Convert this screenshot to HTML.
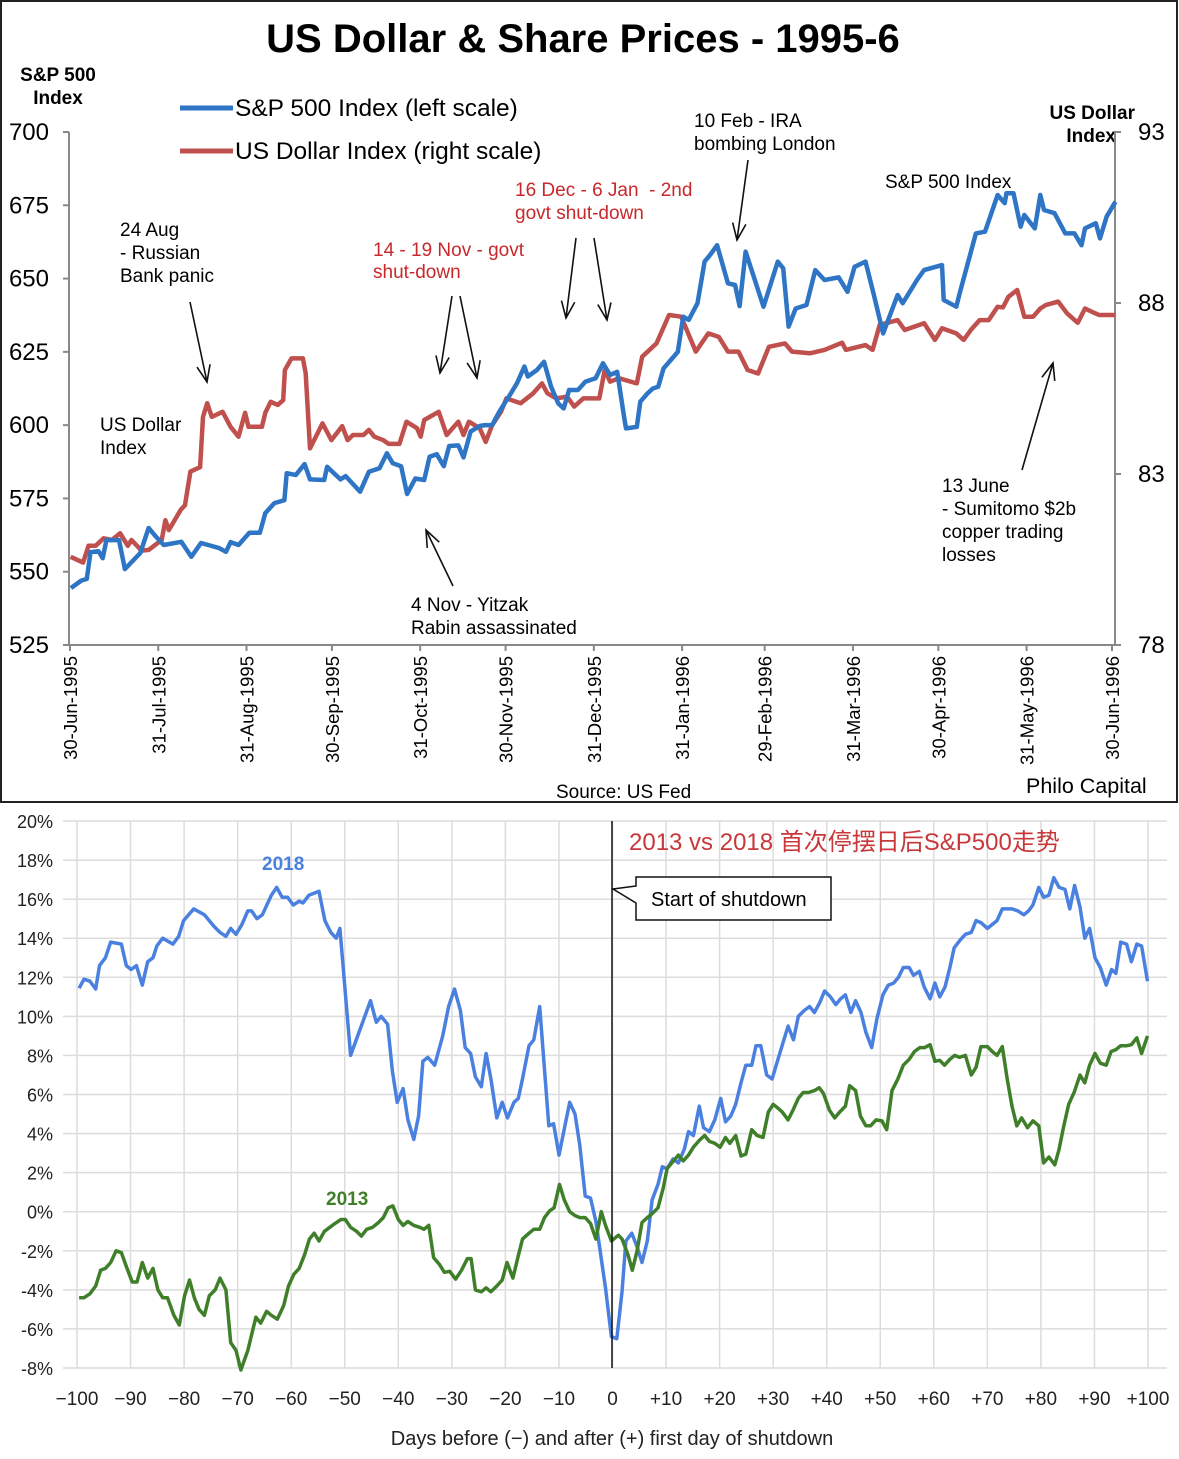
<!DOCTYPE html>
<html><head><meta charset="utf-8"><style>
body{margin:0;background:#fff;width:1179px;height:1459px;overflow:hidden}
svg{display:block}
text{font-family:"Liberation Sans","Noto Sans CJK SC",sans-serif}
</style></head><body>
<svg id="s" width="1179" height="1459" viewBox="0 0 1179 1459">
<rect x="1" y="1" width="1176" height="801" fill="#fff" stroke="#222" stroke-width="2"/>
<text x="583" y="52" font-size="40" font-weight="bold" text-anchor="middle">US Dollar &amp; Share Prices - 1995-6</text>
<text x="58" y="81" font-size="19" font-weight="bold" text-anchor="middle"><tspan x="58">S&amp;P 500</tspan><tspan x="58" dy="23">Index</tspan></text>
<text x="1135" y="119" font-size="19" font-weight="bold" text-anchor="end"><tspan x="1135">US Dollar</tspan><tspan x="1116" dy="23">Index</tspan></text>
<g>
<line x1="180" y1="108" x2="233" y2="108" stroke="#2e75c6" stroke-width="5"/>
<text x="235" y="116" font-size="24.5">S&amp;P 500 Index (left scale)</text>
<line x1="180" y1="151" x2="233" y2="151" stroke="#c0504d" stroke-width="5"/>
<text x="235" y="159" font-size="24.5">US Dollar Index (right scale)</text>
</g>
<g id="topAxes"></g>
<g id="topSeries"></g>
<g font-size="19">
<text x="120" y="236"><tspan x="120">24 Aug</tspan><tspan x="120" dy="23">- Russian</tspan><tspan x="120" dy="23">Bank panic</tspan></text>
<text x="100" y="431"><tspan x="100">US Dollar</tspan><tspan x="100" dy="23">Index</tspan></text>
<text x="373" y="256" fill="#c8282b"><tspan x="373">14 - 19 Nov - govt</tspan><tspan x="373" dy="22">shut-down</tspan></text>
<text x="515" y="196" fill="#c8282b"><tspan x="515">16 Dec - 6 Jan &#160;- 2nd</tspan><tspan x="515" dy="23">govt shut-down</tspan></text>
<text x="694" y="127"><tspan x="694">10 Feb - IRA</tspan><tspan x="694" dy="23">bombing London</tspan></text>
<text x="885" y="188">S&amp;P 500 Index</text>
<text x="942" y="492"><tspan x="942">13 June</tspan><tspan x="942" dy="23">- Sumitomo $2b</tspan><tspan x="942" dy="23">copper trading</tspan><tspan x="942" dy="23">losses</tspan></text>
<text x="411" y="611"><tspan x="411">4 Nov - Yitzak</tspan><tspan x="411" dy="23">Rabin assassinated</tspan></text>
<text x="556" y="798">Source: US Fed</text>
<text x="1026" y="793" font-size="21.5">Philo Capital</text>
</g>
<g id="arrows" stroke="#111" stroke-width="1.6" fill="none"></g>

<g id="botGrid"></g>
<g id="botSeries"></g>
<line x1="612" y1="821" x2="612" y2="1368" stroke="#111" stroke-width="1.5"/>
<text x="629" y="850" font-size="24" fill="#c8383a">2013 vs 2018 首次停摆日后S&amp;P500走势</text>
<path d="M636,877 H831 V920 H636 V903 L613,889 L636,886 Z" fill="#fff" stroke="#111" stroke-width="1.5"/>
<text x="651" y="906" font-size="20">Start of shutdown</text>
<text x="262" y="870" font-size="19" font-weight="bold" fill="#4a80e0">2018</text>
<text x="326" y="1205" font-size="19" font-weight="bold" fill="#3f7f2a">2013</text>
<text x="612" y="1445" font-size="20" text-anchor="middle" fill="#222">Days before (−) and after (+) first day of shutdown</text>
</svg>
<script>
// ---------- Top chart data ----------
const spDays=[0.3,4,5.9,7.2,10,11.5,12.8,17.2,19.3,24.7,27.6,29.7,32.9,39.1,42.6,46,52.3,54.8,56.4,59.2,63,66.7,68.6,71.8,75.3,76.1,79.3,82.4,84.3,89.3,90.3,95,96.8,101.9,105,108.7,111.3,113.4,116.3,118.4,121.3,124.4,126.3,128.8,131.3,133.2,136.4,138.2,140.7,143.9,145.8,148.3,150.8,154.5,157,159.6,160.8,164,166.5,169,171.5,173.4,175.3,178.4,181,184.6,187.2,189.7,192.2,194.7,195.3,199.1,200.3,202.8,204.7,206.6,208.5,211,213.5,215.4,217.3,220.4,222.9,224.8,227.3,231.1,233.6,235.2,237.3,243.6,248.6,250.5,252.4,254.9,258.7,261.8,265,270,273.1,275.6,279.4,282.5,285.6,290.7,292.5,297.5,300,306.3,306.9,311.3,312.5,318.2,321.4,325.8,328.3,328.9,331.4,333.9,335.2,338.9,340.8,342.1,345.8,349.6,352.8,355.3,356.5,360.3,361.8,364.1,367.2];
const spVals=[544.4,547,547.5,556.7,557,554.6,560.8,560.8,550.9,556.4,564.9,562.5,559.1,560.2,555.1,559.8,558.1,556.8,560.1,559.1,563.3,563.3,570,573.4,574.4,583.6,583,586.7,581.5,581.3,585.8,581.5,582.6,577.3,584.1,585.3,590.4,587,586,576.5,581.8,581.3,589.2,590.1,586,592.9,593.1,589,597.8,599.7,600,600,604.6,610.3,614.3,620,616.6,618.8,621.6,613.1,607.4,605.7,612,612,614.8,616,621.1,617.1,618.2,602.3,598.9,599.4,608,610.8,612.5,613.1,619.4,622.2,625,637,635.9,641.6,655.8,658,661.4,648.4,647.8,640.6,659.2,640.4,655.8,653.5,633.6,639.8,641,652.9,649.5,650.4,645.5,654,655.8,643.8,631.3,644.4,641.6,649.5,652.9,654.6,642.7,640.4,645,665.4,666,678.5,675.7,679.1,679.1,667.7,671.7,667.1,678.5,673.4,672.3,665.4,665.4,661.4,667.1,668.9,663.7,671.1,676.2];
const usdDays=[0.2,4.6,6.5,9,11.8,14.7,17.6,20.3,21.6,25.1,27.6,32.2,33.5,34.7,38.9,40.4,42.3,45.7,46.7,48.2,49.8,53.6,56.4,59.2,61.5,62.7,67.4,68.6,70.5,73,74.9,75.5,77.8,81.8,82.8,84.3,88.7,91.8,95.6,97.5,99.4,103.1,105,106.9,110,111.9,115.7,118.2,121.9,123.2,124.4,129.5,132.3,136.4,138.2,140.1,143.9,146,148.3,151.4,153.3,158.3,162.7,165.8,167.7,170.8,174.6,177.1,180.3,185.9,187.8,189.7,192.8,199.1,201,206,210.4,214.7,219.8,224.2,227.9,231.1,234.8,238,241.7,245.5,251.1,253.6,259.9,265,271.2,272.5,279.4,281.9,284.4,290.7,293.2,300,303.8,306.3,311.3,313.9,316.4,319.5,322.7,325.8,327.7,329.6,332.7,335.2,338.3,340.8,342.7,347.1,350.2,354,356.5,359,361.5,367.2];
const usdVals=[80.58,80.41,80.9,80.9,81.12,81.07,81.27,80.9,81.07,80.76,80.78,81.07,81.65,81.36,81.95,82.09,83.07,83.2,84.67,85.07,84.67,84.82,84.38,84.09,84.79,84.38,84.38,84.79,85.11,85.02,85.16,86.04,86.38,86.38,85.94,83.75,84.48,83.99,84.4,83.99,84.14,84.14,84.29,84.09,83.99,83.88,83.88,84.53,84.34,84.09,84.58,84.82,84.14,84.53,84.14,84.53,84.34,83.94,84.43,84.82,85.21,85.07,85.36,85.65,85.36,85.21,85.26,84.97,85.21,85.21,86.04,85.7,85.8,85.65,86.43,86.82,87.65,87.6,86.58,87.11,87.01,86.58,86.58,86.04,85.94,86.72,86.82,86.58,86.53,86.63,86.84,86.63,86.77,86.63,87.36,87.5,87.21,87.41,86.92,87.26,87.11,86.92,87.21,87.5,87.5,87.89,87.87,88.18,88.38,87.6,87.6,87.84,87.94,88.04,87.7,87.42,87.84,87.74,87.65,87.65];
const leftTicks=[700,675,650,625,600,575,550,525];
const rightTicks=[93,88,83,78];
const dateLabels=["30-Jun-1995","31-Jul-1995","31-Aug-1995","30-Sep-1995","31-Oct-1995","30-Nov-1995","31-Dec-1995","31-Jan-1996","29-Feb-1996","31-Mar-1996","30-Apr-1996","31-May-1996","30-Jun-1996"];
const dateOffsets=[0,31,62,92,123,153,184,215,244,275,305,336,366];
// ---------- Bottom chart data ----------
const d18=[-99.6,-98.7,-97.6,-96.5,-95.8,-94.7,-93.7,-91.7,-90.8,-89.9,-88.9,-87.8,-86.8,-85.8,-85.1,-84,-82.1,-81,-80.1,-78.2,-76.2,-74.4,-73.3,-72.2,-71.3,-70.3,-69.2,-68.1,-67.4,-66.4,-65.4,-63.7,-62.7,-61.7,-60.7,-59.6,-58.5,-57.8,-56.7,-54.8,-53.7,-52.6,-51.6,-50.9,-48.9,-45.2,-44.1,-43.2,-42,-41.1,-40.2,-39.1,-38.2,-37.1,-36.2,-35.4,-34.5,-33.2,-31.7,-30.6,-29.5,-28.4,-27.5,-26.5,-25.6,-24.5,-23.6,-22.7,-21.6,-20.6,-19.6,-18.4,-17.6,-16.8,-15.6,-14.7,-13.6,-11.9,-11,-10,-8,-7,-6.1,-5.1,-4.1,-3.1,-1.3,-0.2,0.8,1.8,2.5,3.6,4.6,5.5,6.5,7.4,8.5,9.3,10.2,11.3,12.3,13.4,14.2,15.1,16.2,17,18.1,19.1,20.2,21.1,22.1,23,24,24.9,26,26.8,27.7,28.8,29.8,30.9,31.9,32.8,33.8,34.7,35.8,36.8,37.7,38.7,39.6,40.7,41.7,42.6,43.5,44.5,45.4,46.4,47.3,48.4,49.4,50.5,51.5,52.5,53.4,54.3,55.4,56.2,57.3,58.2,59.3,60.2,61.1,62.1,63,63.8,64.9,65.9,67,67.9,68.8,70,70.9,71.8,72.8,73.7,74.6,75.7,76.8,77.7,78.5,79.6,80.5,81.5,82.4,83.4,84.5,85.4,86.3,87.3,88.2,89.1,90.1,91.1,92.2,93.2,94,94.9,96,96.9,97.9,98.8,99.9];
const v18=[11.44,11.9,11.8,11.4,12.6,13,13.8,13.7,12.6,12.4,12.6,11.6,12.8,13,13.6,14,13.7,14.1,14.9,15.5,15.2,14.6,14.3,14.1,14.5,14.2,14.7,15.4,15.4,15,15.2,16.2,16.6,16.1,16.1,15.7,15.9,15.8,16.2,16.4,14.9,14.3,14,14.5,8,10.8,9.7,10,9.6,7.2,5.6,6.3,4.7,3.7,4.9,7.7,7.9,7.5,9,10.5,11.4,10.3,8.4,8.1,6.9,6.4,8.1,6.8,4.8,5.6,4.8,5.6,5.8,6.8,8.5,8.8,10.5,4.4,4.5,2.9,5.6,5,3.4,0.8,0.7,-0.5,-3.9,-6.4,-6.5,-4.05,-1.5,-1.1,-1.8,-2.6,-1.5,0.6,1.4,2.3,2.2,2.7,2.5,3.2,4.1,3.9,5.4,4.3,4.1,4.7,5.8,4.6,4.9,5.5,6.6,7.5,7.5,8.5,8.5,7,6.8,7.8,8.7,9.5,8.8,10,10.3,10.5,10.2,10.7,11.3,11,10.6,10.9,11.1,10.2,10.8,10.2,9.2,8.4,9.9,11.1,11.6,11.7,12,12.5,12.5,12.1,12.3,11.5,10.9,11.7,11,11.5,12.5,13.5,13.9,14.2,14.3,14.9,14.8,14.5,14.7,14.9,15.5,15.5,15.5,15.4,15.2,15.4,15.7,16.6,16.1,16.2,17.1,16.6,16.5,15.5,16.7,15.6,14,14.5,13,12.5,11.6,12.4,12.2,13.8,13.7,12.8,13.7,13.6,11.8];
const d13=[-99.6,-98.7,-97.6,-96.5,-95.6,-94.7,-93.7,-92.7,-91.7,-90.8,-89.7,-88.8,-87.8,-86.8,-85.8,-84.9,-84,-83.1,-81.9,-80.9,-79.9,-79,-78.1,-77.2,-76.2,-75.3,-74.2,-73.3,-72.2,-71.3,-70.3,-69.4,-68.1,-66.6,-65.7,-64.6,-63.7,-62.6,-61.4,-60.5,-59.5,-58.5,-57.5,-56.6,-55.7,-54.8,-53.8,-52.8,-51.8,-50.7,-49.9,-48.9,-47.8,-46.9,-45.9,-44.8,-43.7,-42.8,-41.9,-41,-40,-39.1,-38.2,-37.1,-36,-35.2,-34.3,-33.4,-32.3,-31.4,-30.4,-29.3,-28.2,-27.1,-26.4,-25.6,-24.5,-23.6,-22.7,-21.6,-20.6,-19.7,-18.6,-17.6,-16.8,-15.6,-14.7,-13.6,-12.7,-11.7,-10.9,-9.9,-9,-8,-7,-6.1,-5.1,-4.1,-3.1,-2.1,-1.3,-0.2,1.1,1.8,2.9,3.7,4.6,5.5,6.5,7.4,8.5,9.5,10.2,11.4,12.3,13.2,14.2,15.1,16.2,17.2,18.1,19.1,20.1,21.1,21.9,23,24,24.9,26,27,28.1,29.1,30,30.9,31.7,32.8,33.7,34.7,35.6,36.6,37.7,38.6,39.4,40.5,41.5,42.4,43.5,44.3,45.4,46.3,47.3,48.2,49.2,50.3,51.2,52.2,53.3,54.3,55.4,56.4,57.4,58.3,59.3,60.2,61.1,62,63,63.9,64.8,65.9,67,67.9,68.8,70,70.9,71.8,72.8,73.7,74.6,75.5,76.4,77.5,78.5,79.6,80.5,81.5,82.6,83.4,84.2,85.2,86.2,87.3,88.2,89.1,90.1,91.1,92.2,93.1,94,94.9,96,96.9,97.9,98.8,99.9];
const v13=[-4.4,-4.4,-4.2,-3.8,-3,-2.9,-2.6,-2,-2.1,-2.8,-3.6,-3.6,-2.6,-3.4,-2.9,-4,-4.4,-4.4,-5.3,-5.8,-4.3,-3.5,-4.4,-5,-5.3,-4.3,-4,-3.4,-4,-6.7,-7.1,-8.1,-7.1,-5.4,-5.7,-5.1,-5.3,-5.5,-4.8,-3.8,-3.2,-2.9,-2.2,-1.4,-1.1,-1.5,-1,-0.8,-0.6,-0.4,-0.4,-0.8,-1,-1.25,-0.9,-0.8,-0.55,-0.3,0.2,0.3,-0.4,-0.7,-0.5,-0.7,-0.8,-0.9,-0.7,-2.35,-2.7,-3.1,-3.05,-3.45,-3,-2.4,-2.4,-4,-4.1,-3.9,-4.1,-3.8,-3.5,-2.6,-3.4,-2.25,-1.4,-1.1,-0.9,-0.9,-0.3,0.05,0.2,1.4,0.6,0,-0.2,-0.3,-0.3,-0.6,-1.4,0,-0.7,-1.5,-1.2,-1.4,-2.2,-3,-2,-0.55,-0.3,-0.1,0.2,1.25,2.2,2.6,2.9,2.6,2.9,3.3,3.65,3.9,3.6,3.5,3.3,3.8,3.5,3.9,2.85,2.95,4.2,3.9,3.8,5.1,5.5,5.3,5.1,4.7,5.2,5.8,6.1,6.1,6.2,6.35,6.05,5.2,4.8,5.1,5.4,6.45,6.2,4.9,4.4,4.4,4.7,4.65,4.2,6.2,6.8,7.5,7.8,8.2,8.4,8.4,8.55,7.7,7.75,7.5,7.8,8,7.9,8,7,7.4,8.45,8.45,8.2,8,8.45,6.8,5.4,4.4,4.8,4.3,4.65,4.4,2.5,2.8,2.4,3.2,4.3,5.5,6.1,7,6.6,7.5,8.1,7.6,7.5,8.2,8.3,8.5,8.5,8.55,8.9,8.1,9];
const pctTicks=[20,18,16,14,12,10,8,6,4,2,0,-2,-4,-6,-8];
const dayTicks=[-100,-90,-80,-70,-60,-50,-40,-30,-20,-10,0,10,20,30,40,50,60,70,80,90,100];

const NS="http://www.w3.org/2000/svg";
function mk(tag,attrs,parent,txt){const e=document.createElementNS(NS,tag);for(const k in attrs)e.setAttribute(k,attrs[k]);if(txt!==undefined)e.textContent=txt;parent.appendChild(e);return e;}
const xT=d=>70+d*(1042/366);
const yL=v=>132+(700-v)*(513/175);
const yR=v=>132+(93-v)*(513/15);
const xB=d=>77+(d+100)*(1071/200);
const yB=v=>821+(20-v)*(547/28);

const ta=document.getElementById('topAxes');
let e=mk('line',{x1:69,y1:132,x2:69,y2:645,stroke:'#888','stroke-width':2},ta);


e=mk('line',{x1:1115,y1:132,x2:1115,y2:645,stroke:'#888','stroke-width':2},ta);


e=mk('line',{x1:69,y1:645,x2:1115,y2:645,stroke:'#888','stroke-width':2},ta);


leftTicks.forEach(v=>{const y=yL(v);
 mk('line',{x1:63,y1:y,x2:69,y2:y,stroke:'#888','stroke-width':2},ta);
 e=mk('text',{x:49,y:y+8,'font-size':24,'text-anchor':'end'},ta,String(v));
 
 });
rightTicks.forEach(v=>{const y=yR(v);
 mk('line',{x1:1115,y1:y,x2:1121,y2:y,stroke:'#888','stroke-width':2},ta);
 e=mk('text',{x:1138,y:y+8,'font-size':24},ta,String(v));
 
 });
dateLabels.forEach((l,i)=>{const x=xT(dateOffsets[i]);
 mk('line',{x1:x,y1:645,x2:x,y2:651,stroke:'#888','stroke-width':2},ta);
 e=mk('text',{x:0,y:0,'font-size':18.5,'text-anchor':'end',transform:`translate(${x+7},656) rotate(-90)`},ta,l);
 
 });
const ts=document.getElementById('topSeries');
function path(xs,ys,fx,fy){return xs.map((d,i)=>(i?'L':'M')+fx(d).toFixed(1)+','+fy(ys[i]).toFixed(1)).join('');}
e=mk('path',{d:path(usdDays,usdVals,xT,yR),fill:'none',stroke:'#c0504d','stroke-width':4.5,'stroke-linejoin':'round'},ts);


e=mk('path',{d:path(spDays,spVals,xT,yL),fill:'none',stroke:'#2e75c6','stroke-width':4.5,'stroke-linejoin':'round'},ts);


const ar=document.getElementById('arrows');
[[190,302,207,382],[452,296,440,373],[460,296,477,378],[576,238,566,318],[594,238,607,320],[748,160,737,240],[1022,470,1053,363],[453,586,426,530]].forEach(a=>{
 const [x1,y1,x2,y2]=a;const ang=Math.atan2(y2-y1,x2-x1);const L=18,w=0.38;
 const p1=[x2-L*Math.cos(ang-w),y2-L*Math.sin(ang-w)],p2=[x2-L*Math.cos(ang+w),y2-L*Math.sin(ang+w)];
 e=mk('path',{d:`M${x1},${y1}L${x2},${y2}M${p1[0]},${p1[1]}L${x2},${y2}L${p2[0]},${p2[1]}`},ar);
 
 });

const bg=document.getElementById('botGrid');
pctTicks.forEach(v=>{const y=yB(v);
 mk('line',{x1:63,y1:y,x2:1167,y2:y,stroke:'#dcdcdc','stroke-width':1.5},bg);
 e=mk('text',{x:53,y:y+7,'font-size':18,'text-anchor':'end',fill:'#222'},bg,(v<0?'-':'')+Math.abs(v)+'%');
 
 });
dayTicks.forEach(d=>{const x=xB(d);
 mk('line',{x1:x,y1:821,x2:x,y2:1368,stroke:'#dcdcdc','stroke-width':1.5},bg);
 e=mk('text',{x:x,y:1405,'font-size':19,'text-anchor':'middle',fill:'#222'},bg,d<0?'−'+(-d):(d>0?'+'+d:'0'));
 
 });
const bs=document.getElementById('botSeries');
e=mk('path',{d:path(d18,v18,xB,yB),fill:'none',stroke:'#4a80e0','stroke-width':3.5,'stroke-linejoin':'round'},bs);


e=mk('path',{d:path(d13,v13,xB,yB),fill:'none',stroke:'#3f7f2a','stroke-width':3.5,'stroke-linejoin':'round'},bs);


</script>
</body></html>
